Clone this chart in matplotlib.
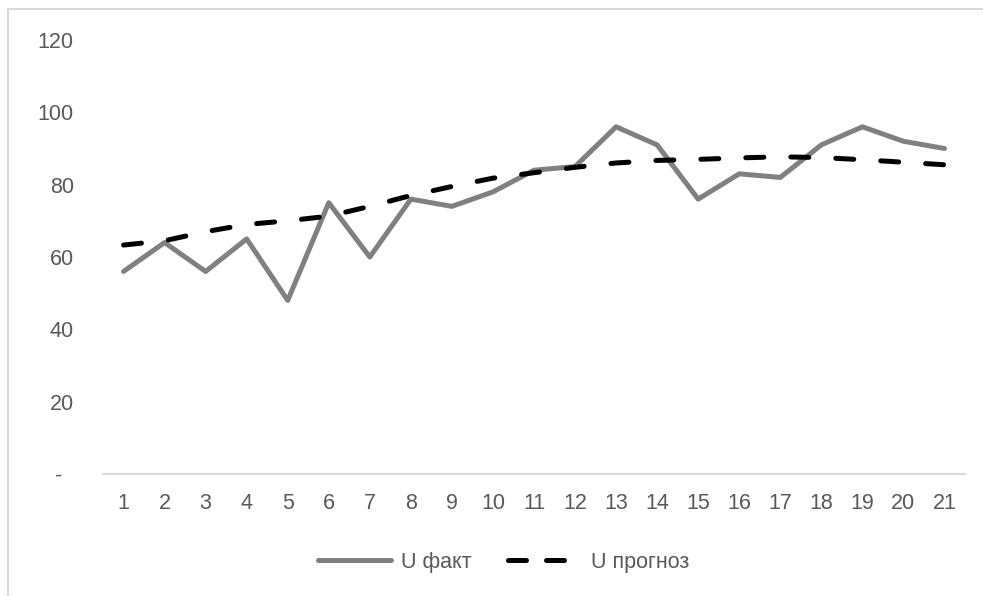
import matplotlib
matplotlib.use("Agg")
import matplotlib.pyplot as plt
from matplotlib.patches import Rectangle
from matplotlib.lines import Line2D

plt.rcParams['font.family'] = ['Liberation Sans', 'DejaVu Sans']

# Data
periods = list(range(1, 22))
u_fact = [56, 64, 56, 65, 48, 75, 60, 76, 74, 78, 84, 85, 96, 91, 76, 83, 82, 91, 96, 92, 90]
u_forecast = [63.3, 64.5, 67, 69, 70, 71.3, 74, 77, 79.5, 81.8, 83.3, 84.8, 86, 86.7,
              87, 87.4, 87.7, 87.5, 86.9, 86.2, 85.5]
y_ticks = [0, 20, 40, 60, 80, 100, 120]
y_labels = ['-  ', '20', '40', '60', '80', '100', '120']

text_color = '#595959'
border_color = '#d9d9d9'
font_size = 15.5

fig = plt.figure(figsize=(9.83, 5.96), dpi=100)
ax = fig.add_axes([103 / 983, 1 - 474 / 596, 862 / 983, 434 / 596])

ax.plot(periods, u_fact, color='#808080', lw=3.6, solid_joinstyle='round',
        solid_capstyle='round', label='U факт')
ax.plot(periods, u_forecast, color='black', lw=3.6, dashes=(3.6, 5.4),
        dash_capstyle='round', label='U прогноз')

ax.set_xlim(0.5, 21.5)
ax.set_ylim(0, 120)
ax.set_xticks(periods)
ax.set_xticklabels([str(p) for p in periods])
ax.set_yticks(y_ticks)
ax.set_yticklabels(y_labels)
ax.tick_params(axis='both', length=0, labelsize=font_size, labelcolor=text_color)
ax.tick_params(axis='y', pad=21)
ax.tick_params(axis='x', pad=14)

for side in ['top', 'right', 'left']:
    ax.spines[side].set_visible(False)
ax.spines['bottom'].set_color(border_color)
ax.spines['bottom'].set_linewidth(1.5)

handles = [
    Line2D([], [], color='#808080', lw=3.6, solid_capstyle='round'),
    Line2D([], [], color='black', lw=3.6, dashes=(3.6, 4.0), dash_capstyle='round'),
]
fig.legend(handles, ['U факт', 'U прогноз'], loc='center', bbox_to_anchor=(0.512, 0.057),
           ncol=2, frameon=False, fontsize=font_size, labelcolor=text_color,
           handlelength=3.4, columnspacing=1.7, handletextpad=0.45)

# Chart area border
fig.patches.append(Rectangle((8 / 983, -0.5), 2.0, 1 - 9 / 596 + 0.5,
                             transform=fig.transFigure, fill=False,
                             edgecolor=border_color, lw=1.5))

fig.savefig('out.png', dpi=100)
